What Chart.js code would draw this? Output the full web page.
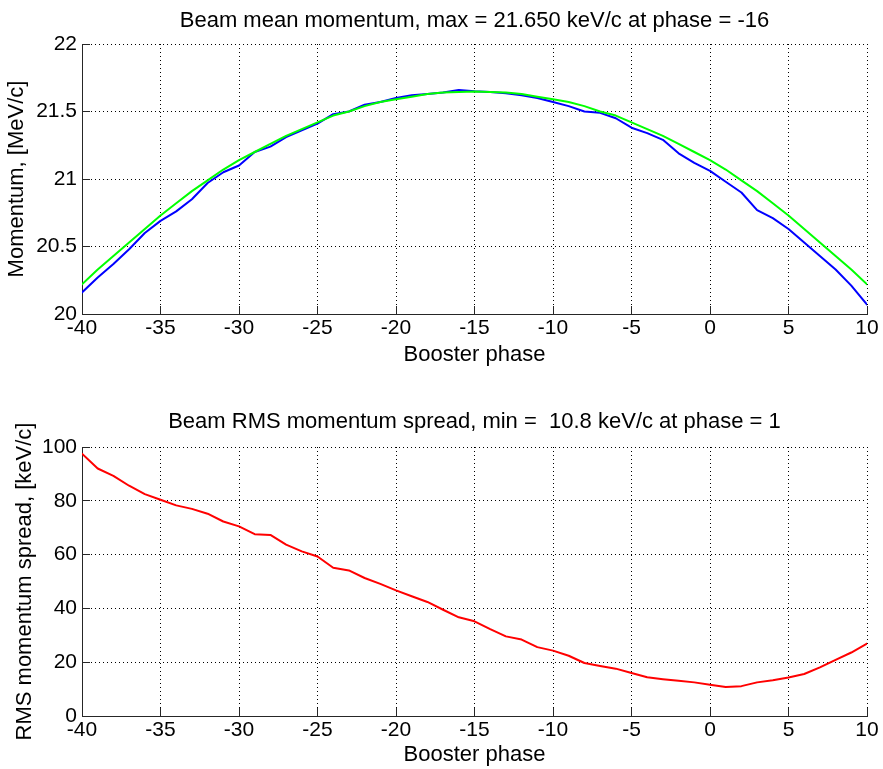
<!DOCTYPE html>
<html><head><meta charset="utf-8">
<script src="https://cdn.jsdelivr.net/npm/chart.js@4/dist/chart.umd.min.js"></script>
<style>
html,body{margin:0;padding:0;background:#fff;}
#c1{position:absolute;left:0;top:0;}
#c2{position:absolute;left:0;top:385px;}
</style></head><body>
<canvas id="c1" width="883" height="385"></canvas>
<canvas id="c2" width="883" height="384"></canvas>
<script>
// ---- data ----
const phases = [-40,-39,-38,-37,-36,-35,-34,-33,-32,-31,-30,-29,-28,-27,-26,-25,-24,-23,-22,-21,-20,-19,-18,-17,-16,-15,-14,-13,-12,-11,-10,-9,-8,-7,-6,-5,-4,-3,-2,-1,0,1,2,3,4,5,6,7,8,9,10];
const meanMomentum = [20.16,20.27,20.37,20.48,20.60,20.69,20.76,20.85,20.97,21.05,21.10,21.20,21.24,21.31,21.36,21.41,21.48,21.50,21.55,21.57,21.60,21.62,21.63,21.64,21.66,21.65,21.644,21.636,21.62,21.60,21.57,21.54,21.50,21.49,21.45,21.38,21.34,21.29,21.19,21.12,21.06,20.98,20.90,20.77,20.71,20.63,20.53,20.43,20.33,20.21,20.07];
const fitMomentum = [20.22,20.33,20.43,20.53,20.63,20.73,20.82,20.91,20.99,21.07,21.14,21.20,21.26,21.32,21.37,21.42,21.47,21.50,21.54,21.57,21.59,21.61,21.63,21.64,21.645,21.648,21.645,21.64,21.63,21.61,21.59,21.57,21.54,21.50,21.47,21.42,21.37,21.32,21.26,21.20,21.14,21.07,20.99,20.91,20.82,20.73,20.63,20.53,20.43,20.33,20.22];
const rmsSpread = [97.5,92.0,89.3,85.6,82.5,80.4,78.3,77.0,75.2,72.3,70.5,67.6,67.3,63.7,61.2,59.3,55.1,54.1,51.3,49.1,46.7,44.5,42.4,39.5,36.7,35.2,32.3,29.6,28.4,25.6,24.3,22.4,19.7,18.6,17.6,16.0,14.4,13.7,13.1,12.5,11.6,10.8,11.1,12.5,13.3,14.3,15.6,18.1,20.9,23.6,26.9];
const xTicks = [-40,-35,-30,-25,-20,-15,-10,-5,0,5,10];
const xTickLabels = ['-40','-35','-30','-25','-20','-15','-10','-5','0','5','10'];
const yTicksTop = [20,20.5,21,21.5,22];
const yTickLabelsTop = ['20','20.5','21','21.5','22'];
const yTicksBottom = [0,20,40,60,80,100];
const yTickLabelsBottom = ['0','20','40','60','80','100'];
const titleTop = 'Beam mean momentum, max = 21.650 keV/c at phase = -16';
const titleBottom = 'Beam RMS momentum spread, min =  10.8 keV/c at phase = 1';
const xLabel = 'Booster phase';
const yLabelTop = 'Momentum, [MeV/c]';
const yLabelBottom = 'RMS momentum spread, [keV/c]';

const FONT = "'Liberation Sans', Arial, Helvetica, sans-serif";
Chart.defaults.font.family = FONT;
Chart.defaults.color = '#000';

const toXY = (ys) => phases.map((p, i) => ({x: p, y: ys[i]}));

const inwardTicks = {
  id: 'inwardTicks',
  afterDatasetsDraw(chart) {
    const {ctx, chartArea: a, scales: {x, y}} = chart;
    ctx.save();
    ctx.strokeStyle = '#262626';
    ctx.lineWidth = 1;
    ctx.beginPath();
    x.ticks.forEach(t => {
      const p = Math.round(x.getPixelForValue(t.value) - 0.5) + 0.5;
      ctx.moveTo(p, a.bottom); ctx.lineTo(p, a.bottom - 8);
    });
    y.ticks.forEach(t => {
      const p = Math.round(y.getPixelForValue(t.value) - 0.5) + 0.5;
      ctx.moveTo(a.left, p); ctx.lineTo(a.left + 8, p);
    });
    ctx.stroke();
    ctx.restore();
  }
};

function makeChart(id, datasets, yMin, yMax, yTicks, yLabels, yTitle, title, L) {
  return new Chart(document.getElementById(id), {
    type: 'line',
    data: {datasets},
    plugins: [inwardTicks],
    options: {
      responsive: false,
      animation: false,
      devicePixelRatio: 1,
      layout: {padding: {left: 0, right: 16, top: 0, bottom: 0}},
      elements: {point: {radius: 0}, line: {tension: 0, borderWidth: 2, borderJoinStyle: 'round', borderCapStyle: 'round'}},
      plugins: {
        legend: {display: false},
        tooltip: {enabled: false},
        title: {display: true, text: title, color: '#000', fullSize: false,
          font: {size: 22, weight: 'normal', lineHeight: 1.2},
          padding: {top: L.titleTop, bottom: L.titleBottom}}
      },
      scales: {
        x: {
          type: 'linear', min: -40, max: 10,
          afterBuildTicks: s => { s.ticks = xTicks.map(v => ({value: v})); },
          afterFit: s => { s.height = L.xHeight; },
          ticks: {autoSkip: false, maxRotation: 0, padding: L.xTickPad, color: '#000',
            font: {size: 21, lineHeight: 1.2},
            callback: (v) => xTickLabels[xTicks.indexOf(v)]},
          grid: {color: '#000', lineWidth: 1, drawTicks: false},
          border: {display: true, color: '#262626', width: 1, dash: [1, 3]},
          title: {display: true, text: xLabel, color: '#000', font: {size: 22, lineHeight: 1.2},
            padding: {top: 0, bottom: L.xTitlePad}}
        },
        y: {
          type: 'linear', min: yMin, max: yMax,
          afterBuildTicks: s => { s.ticks = yTicks.map(v => ({value: v})); },
          afterFit: s => { s.width = 82; },
          ticks: {padding: 5, color: '#000', font: {size: 21, lineHeight: 1.2},
            callback: (v) => yLabels[yTicks.indexOf(v)]},
          grid: {color: '#000', lineWidth: 1, drawTicks: false},
          border: {display: true, color: '#262626', width: 1, dash: [1, 3]},
          title: {display: true, text: yTitle, color: '#000', font: {size: 22, lineHeight: 1.2},
            padding: {top: L.yTitlePad, bottom: 0}}
        }
      }
    }
  });
}

makeChart('c1', [
  {label: 'fit', data: toXY(fitMomentum), borderColor: '#00ff00', backgroundColor: '#00ff00', fill: false},
  {label: 'mean momentum', data: toXY(meanMomentum), borderColor: '#0000ff', backgroundColor: '#0000ff', fill: false}
], 20, 22, yTicksTop, yTickLabelsTop, yLabelTop, titleTop,
  {titleTop: 7.3, titleBottom: 10.3, xHeight: 71, xTickPad: 2, xTitlePad: 17, yTitlePad: 4});

makeChart('c2', [
  {label: 'rms spread', data: toXY(rmsSpread), borderColor: '#ff0000', backgroundColor: '#ff0000', fill: false}
], 0, 100, yTicksBottom, yTickLabelsBottom, yLabelBottom, titleBottom,
  {titleTop: 23.8, titleBottom: 11.8, xHeight: 53, xTickPad: 2, xTitlePad: 1, yTitlePad: 11.5});
</script>
</body></html>
